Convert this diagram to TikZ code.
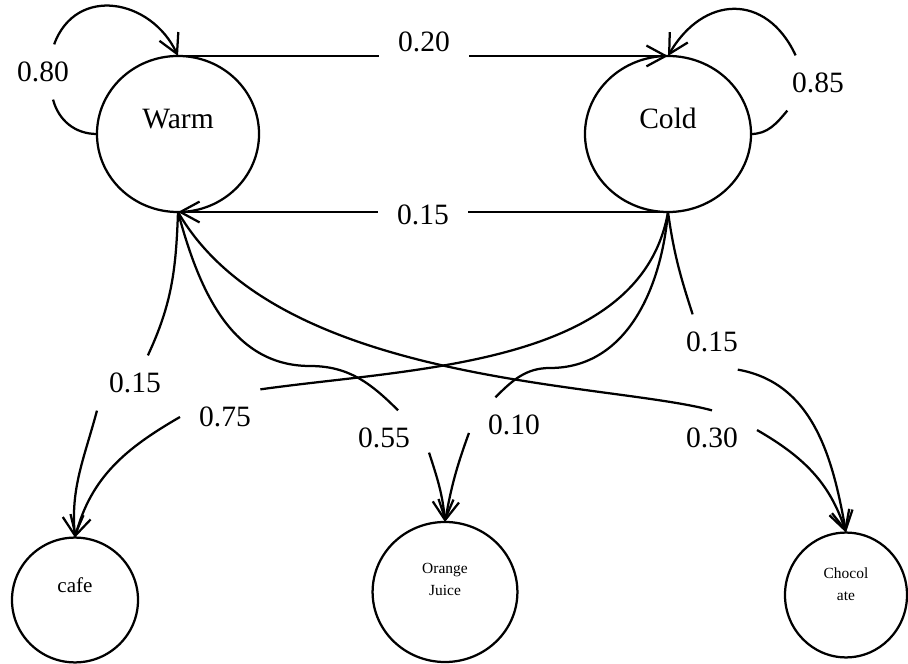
\documentclass[tikz,border=0pt]{standalone}
\usepackage{fontspec}
\setmainfont{Liberation Serif}
\usetikzlibrary{shapes.geometric,arrows.meta}
\newcommand{\lift}[2]{\raisebox{#1}[0pt][0pt]{#2}}

\begin{document}
\begin{tikzpicture}[
    x=0.025cm, y=0.025cm,
    every node/.style={font=\fontsize{21}{25}\selectfont},
    state/.style={ellipse, draw, line width=1.6pt, inner sep=0pt, outer sep=0pt},
    prob/.style={inner xsep=0.48cm, inner ysep=0.44cm, outer sep=0pt},
    trans/.style={line width=1.6pt, -{Straight Barb[length=0.48cm, width=0.52cm]}},
  ]
  \useasboundingbox (0,0) rectangle (908,664);

  % weather states
  \node[state, minimum width=4.05cm, minimum height=3.9cm] (warm) at (178,530) {\lift{0.125cm}{Warm}};
  \node[state, minimum width=4.15cm, minimum height=3.9cm] (cold) at (668,530) {\lift{0.125cm}{Cold}};

  % drinks
  \node[state, minimum width=3.15cm, minimum height=3.12cm, font=\fontsize{15}{18}\selectfont]
    (cafe) at (75,64) {\lift{0.175cm}{cafe}};
  \node[state, minimum width=3.62cm, minimum height=3.5cm, font=\fontsize{11}{15.6}\selectfont]
    (oj) at (445,72) {\lift{0.21cm}{\begin{tabular}{@{}c@{}}Orange\\Juice\end{tabular}}};
  \node[state, minimum width=3.05cm, minimum height=3.12cm, font=\fontsize{11}{15.6}\selectfont]
    (choc) at (846,69) {\lift{0.16cm}{\begin{tabular}{@{}c@{}}Chocol\\ate\end{tabular}}};

  % probabilities
  \node[prob] (ww)    at (43,592)  {0.80};
  \node[prob] (cc)    at (818,581) {0.85};
  \node[prob] (wc)    at (424,622) {0.20};
  \node[prob] (cw)    at (423,449) {0.15};
  \node[prob] (wcafe) at (135,281) {0.15};
  \node[prob] (ccafe) at (225,247) {0.75};
  \node[prob] (woj)   at (384,226) {0.55};
  \node[prob] (coj)   at (514,239) {0.10};
  \node[prob] (wchoc) at (712,226) {0.30};
  \node[prob] (cchoc) at (712,322) {0.15};

  % transitions
  \draw[trans] (warm.west) to[out=180, in=-75] (ww.-70)
               (ww.68) to[out=70, in=115, looseness=1.3] (warm.north);
  \draw[trans] (cold.east) to[out=0, in=-130] (cc.-138)
               (cc.129) to[out=115, in=60, looseness=1.4] (cold.north);
  \draw[trans] (warm.north) -- (wc.west |- warm.north)
               (wc.east |- warm.north) -- (cold.north);
  \draw[trans] (cold.south) -- (cw.east |- cold.south)
               (cw.west |- cold.south) -- (warm.south);

  % emissions
  \draw[trans] (warm.south) to[out=-92, in=65] (wcafe.65)
               (wcafe.-144) to[out=-105, in=95] (cafe.north);
  \draw[trans] (cold.south) to[out=-100, in=8, looseness=0.9] (ccafe.38)
               (ccafe.west) to[out=-150, in=75] (cafe.north);
  \draw[trans] (warm.south) to[out=-75, in=180] (310,298) to[out=0, in=135] (woj.63)
               (woj.-18) to[out=-72, in=95] (oj.north);
  \draw[trans] (cold.south) to[out=-95, in=0] (550,296) to[out=180, in=45] (coj.124)
               (coj.190) to[out=-110, in=80] (oj.north);
  \draw[trans] (warm.south) .. controls +(-60:200) and +(165:110) .. (wchoc.north)
               (wchoc.10) to[out=-30, in=108] (choc.north);
  \draw[trans] (cold.south) to[out=-82, in=108] (cchoc.125)
               (cchoc.-47) to[out=-10, in=100] (choc.north);
\end{tikzpicture}
\end{document}
